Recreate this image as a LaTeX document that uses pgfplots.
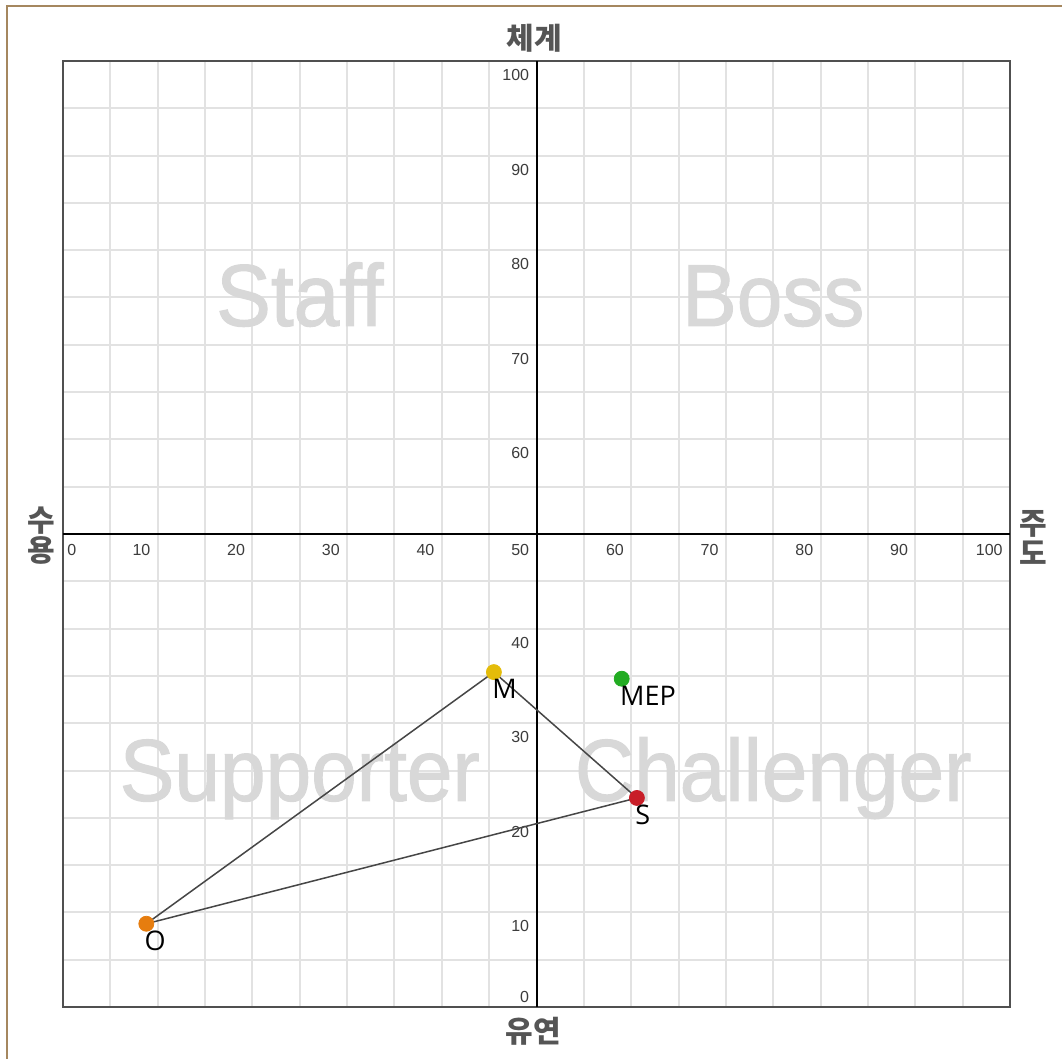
\documentclass[border=0pt]{standalone}
\usepackage{fontspec}
\setmainfont{Liberation Sans}
\newfontfamily\opensans{Open Sans}
\newfontfamily\wmfont[FakeBold=1.3]{Liberation Sans}
\newfontfamily\kr{Noto Sans CJK KR}
\usepackage{pgfplots}
\pgfplotsset{compat=1.18}
\definecolor{gridc}{RGB}{226,226,226}
\definecolor{framec}{RGB}{80,80,80}
\definecolor{wm}{RGB}{216,216,216}
\definecolor{tickc}{RGB}{60,60,60}
\definecolor{labc}{RGB}{85,85,85}
\definecolor{brownf}{RGB}{165,135,95}
\definecolor{linec}{RGB}{70,70,70}
\definecolor{cM}{RGB}{228,188,10}
\definecolor{cMEP}{RGB}{34,172,34}
\definecolor{cO}{RGB}{230,125,15}
\definecolor{cS}{RGB}{200,30,40}
\begin{document}
\begin{tikzpicture}
\path[use as bounding box, fill=white] (0,0) rectangle (531pt,-529.5pt);
\draw[brownf, line width=1pt] (3.5pt,-529.5pt) -- (3.5pt,-3pt) -- (531pt,-3pt);
\begin{axis}[
  at={(31.5pt,-503.5pt)}, anchor=south west,
  scale only axis, width=473.5pt, height=473pt,
  xmin=0, xmax=100, ymin=0, ymax=100,
  xtick={0,5,...,100}, ytick={0,5,...,100},
  xticklabels={,,}, yticklabels={,,},
  major tick length=0pt,
  grid=major, major grid style={gridc, line width=1pt},
  axis line style={framec, line width=1.3pt},
  clip=false,
]
% quadrant watermarks
\node[font=\wmfont\fontsize{41}{41}\selectfont, text=wm, anchor=base, inner sep=0, yscale=1.07] at (axis cs:25,72.0) {Staff};
\node[font=\wmfont\fontsize{41}{41}\selectfont, text=wm, anchor=base, inner sep=0, yscale=1.07] at (axis cs:75,72.0) {Boss};
\node[font=\wmfont\fontsize{41}{41}\selectfont, text=wm, anchor=base, inner sep=0, yscale=1.07] at (axis cs:25,21.8) {Supporter};
\node[font=\wmfont\fontsize{41}{41}\selectfont, text=wm, anchor=base, inner sep=0, yscale=1.07] at (axis cs:75,21.8) {Challenger};
% center axes
\draw[black, line width=1pt] (axis cs:50,0) -- (axis cs:50,100);
\draw[black, line width=1pt] (axis cs:0,50) -- (axis cs:100,50);
% tick labels
\pgfplotsinvokeforeach{10,20,30,40,50,60,70,80,90,100}{
  \node[anchor=north east, inner sep=0, xshift=-3.5pt, yshift=-5pt, font=\fontsize{8}{8}\selectfont, text=tickc] at (axis cs:#1,50) {#1};
}
\pgfplotsinvokeforeach{10,20,30,40,60,70,80,90,100}{
  \node[anchor=north east, inner sep=0, xshift=-3.5pt, yshift=-4pt, font=\fontsize{8}{8}\selectfont, text=tickc] at (axis cs:50,#1) {#1};
}
\node[anchor=north west, inner sep=0, xshift=2pt, yshift=-5pt, font=\fontsize{8}{8}\selectfont, text=tickc] at (axis cs:0,50) {0};
\node[anchor=south east, inner sep=0, xshift=-3.5pt, yshift=2pt, font=\fontsize{8}{8}\selectfont, text=tickc] at (axis cs:50,0) {0};
% triangle
\addplot[color=linec, line width=0.75pt, mark=none] coordinates {(8.8,8.8) (45.5,35.4) (60.6,22.1) (8.8,8.8)};
% points
\pgfplotsset{lbl/.style={nodes near coords={#1}, nodes near coords style={anchor=north west, inner sep=0, xshift=-1pt, yshift=-3.5pt, font=\opensans\fontsize{13.5}{13.5}\selectfont, text=black}}}
\addplot[only marks, mark=*, mark size=3.75pt, color=cO, lbl=O] coordinates {(8.8,8.8)};
\addplot[only marks, mark=*, mark size=3.75pt, color=cM, lbl=M] coordinates {(45.5,35.4)};
\addplot[only marks, mark=*, mark size=3.75pt, color=cS, lbl=S] coordinates {(60.6,22.1)};
\addplot[only marks, mark=*, mark size=3.75pt, color=cMEP, lbl=MEP] coordinates {(59.0,34.7)};
\end{axis}
% axis titles
\node[font=\kr\bfseries\fontsize{15}{15}\selectfont, text=labc, inner sep=0] at (267pt,-19pt) {체계};
\node[font=\kr\bfseries\fontsize{15}{15}\selectfont, text=labc, inner sep=0] at (266.5pt,-515.5pt) {유연};
\node[font=\kr\bfseries\fontsize{15}{15}\selectfont, text=labc, inner sep=0, align=center] at (20.5pt,-268pt) {수\\[0pt]용};
\node[font=\kr\bfseries\fontsize{15}{15}\selectfont, text=labc, inner sep=0, align=center] at (516.5pt,-268.5pt) {주\\[0pt]도};
\end{tikzpicture}
\end{document}
